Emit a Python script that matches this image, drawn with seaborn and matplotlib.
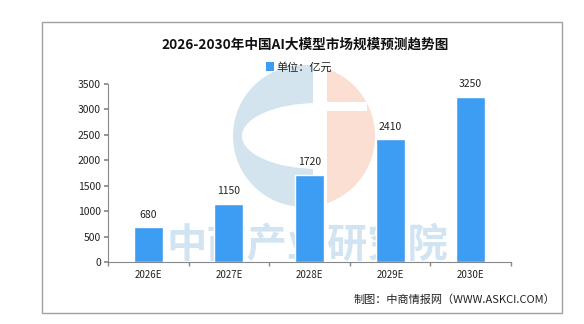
import matplotlib
matplotlib.use("Agg")
import matplotlib.pyplot as plt
import seaborn as sns
import pandas as pd
from matplotlib.patches import Rectangle, Circle, Ellipse

categories = ["2026E", "2027E", "2028E", "2029E", "2030E"]
values = [680, 1150, 1720, 2410, 3250]
yticks = [0, 500, 1000, 1500, 2000, 2500, 3000, 3500]

sns.set_theme(style="white")
plt.rcParams['font.family'] = ['Noto Sans CJK SC', 'DejaVu Sans']

W, H = 584, 324
fig = plt.figure(figsize=(W / 100, H / 100), dpi=100)
fig.patch.set_facecolor("white")

# background / frame axes
bg = fig.add_axes([0, 0, 1, 1])
bg.set_xlim(0, W)
bg.set_ylim(H, 0)
bg.axis("off")
bg.add_patch(Rectangle((42, 22), 520, 291, fill=False, edgecolor="#a0a0a0", lw=1))

# watermark logo
cx, cy, r = 304, 136, 71
left_clip = Rectangle((0, 0), 313, H, transform=bg.transData, visible=False)
right_clip = Rectangle((327, 0), W - 327, H, transform=bg.transData, visible=False)
bg.add_patch(left_clip)
bg.add_patch(right_clip)
blue = Circle((cx, cy), r, facecolor="#d3e4ee", edgecolor="none")
bg.add_patch(blue)
blue.set_clip_path(left_clip)
hole = Ellipse((318, cy), 152, 66, facecolor="white", edgecolor="none")
bg.add_patch(hole)
hole.set_clip_path(left_clip)
salmon = Circle((cx, cy), r, facecolor="#fadfd2", edgecolor="none")
bg.add_patch(salmon)
salmon.set_clip_path(right_clip)
bg.add_patch(Rectangle((327, 102), 40, 9, facecolor="white", edgecolor="none"))

bg.text(307, 245, "中商产业研究院", fontsize=29, fontweight="bold", color="#cde2f1",
        ha="center", va="center", alpha=0.9)

df = pd.DataFrame({"year": categories, "value": values})
ax = fig.add_axes([108 / W, (H - 262) / H, (511 - 108) / W, (262 - 84) / H])
ax.patch.set_alpha(0)
sns.barplot(data=df, x="year", y="value", color="#3d9df3", width=0.36, ax=ax, saturation=1)
ax.set_xlim(-0.5, 4.5)
ax.set_ylim(0, 3500)
ax.set_yticks(yticks)
ax.set_xlabel("")
ax.set_ylabel("")
for s in ["top", "right"]:
    ax.spines[s].set_visible(False)
for s in ["left", "bottom"]:
    ax.spines[s].set_color("#888888")
    ax.spines[s].set_linewidth(0.8)
ax.tick_params(axis="y", labelsize=7.5, length=3, color="#888888", left=True, pad=2, labelcolor="#222222")
ax.tick_params(axis="x", labelsize=7, length=0, pad=6, labelcolor="#222222")
# boundary ticks on x-axis
ax.set_xticks([i - 0.5 for i in range(6)], minor=True)
ax.tick_params(axis="x", which="minor", length=3, color="#888888", bottom=True)
for i, v in enumerate(values):
    ax.text(i, v + 150, str(v), ha="center", va="bottom", fontsize=7.5, color="#222222")

fig.text(305 / W, 1 - 45 / H, "2026-2030年中国AI大模型市场规模预测趋势图", ha="center", va="center",
         fontsize=9.8, fontweight="bold", color="#111111")
bg.add_patch(Rectangle((266, 62), 8, 9, facecolor="#3d9df3", edgecolor="none"))
bg.text(276, 67, "单位：亿元", fontsize=8, va="center", ha="left", color="#222222")
bg.text(555, 300, "制图：中商情报网（WWW.ASKCI.COM）", fontsize=8, va="center", ha="right", color="#222222")

fig.savefig("out.png", dpi=100, facecolor="white")
